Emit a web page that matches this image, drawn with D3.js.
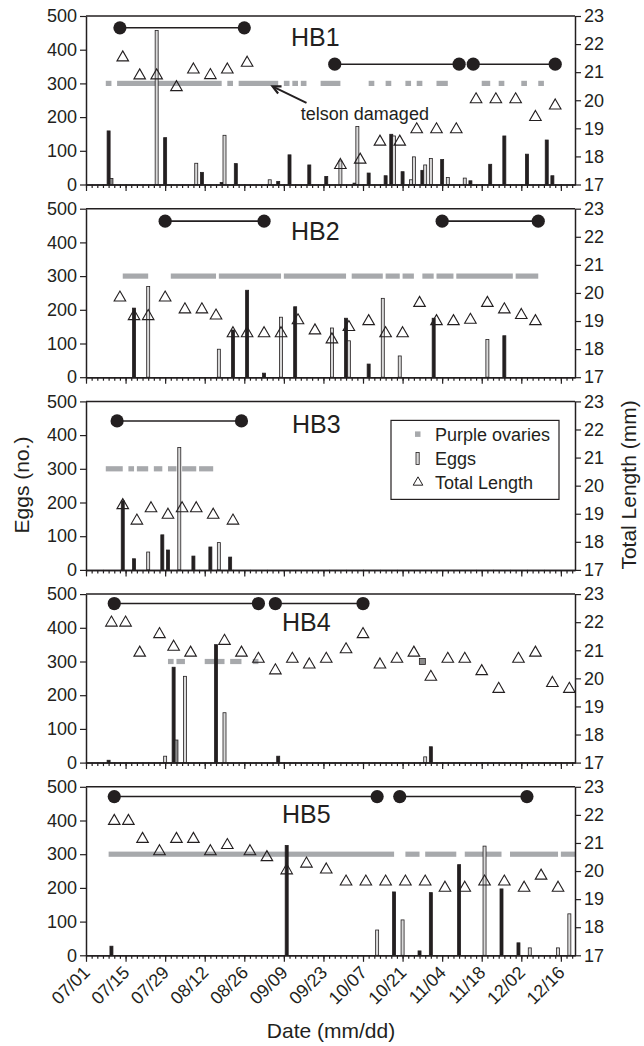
<!DOCTYPE html>
<html>
<head>
<meta charset="utf-8">
<script src="https://cdn.jsdelivr.net/npm/d3@7"></script>
<style>
  body { margin: 0; background: #fff; }
  text { font-family: "Liberation Sans", Arial, Helvetica, sans-serif; fill: #231f20; }
</style>
</head>
<body>
<svg id="chart" width="644" height="1046"></svg>
<script>
// ---- data ----
const panelNames = ['HB1', 'HB2', 'HB3', 'HB4', 'HB5']
const dateTicks = ['07/01', '07/15', '07/29', '08/12', '08/26', '09/09', '09/23', '10/07', '10/21', '11/04', '11/18', '12/02', '12/16']
const eggTicks = [0, 100, 200, 300, 400, 500]
const lengthTicks = [17, 18, 19, 20, 21, 22, 23]
const ovaryLevel = 300

// total length (mm): [date, mm]
const hb1Length = [['07/14', 21.52], ['07/20', 20.88], ['07/26', 20.88], ['08/02', 20.46], ['08/08', 21.09], ['08/14', 20.89], ['08/20', 21.09], ['08/27', 21.33], ['09/29', 17.69], ['10/06', 17.88], ['10/13', 18.52], ['10/20', 18.52], ['10/26', 18.96], ['11/02', 18.96], ['11/09', 18.96], ['11/16', 20.03], ['11/23', 20.03], ['11/30', 20.03], ['12/07', 19.4], ['12/14', 19.81]]
const hb2Length = [['07/13', 19.83], ['07/18', 19.17], ['07/23', 19.17], ['07/29', 19.83], ['08/05', 19.41], ['08/11', 19.41], ['08/16', 19.19], ['08/22', 18.56], ['08/27', 18.56], ['09/02', 18.56], ['09/08', 18.56], ['09/14', 19.02], ['09/20', 18.66], ['09/26', 18.34], ['10/02', 18.78], ['10/09', 18.99], ['10/15', 18.56], ['10/21', 18.56], ['10/27', 19.64], ['11/02', 18.99], ['11/08', 18.99], ['11/14', 19.04], ['11/20', 19.64], ['11/26', 19.41], ['12/02', 19.21], ['12/07', 18.99]]
const hb3Length = [['07/14', 19.3], ['07/19', 18.75], ['07/24', 19.19], ['07/30', 18.96], ['08/04', 19.19], ['08/09', 19.19], ['08/15', 18.96], ['08/22', 18.75]]
const hb4Length = [['07/10', 21.98], ['07/15', 21.98], ['07/20', 20.91], ['07/27', 21.57], ['08/01', 21.12], ['08/07', 20.91], ['08/19', 21.33], ['08/25', 20.91], ['08/31', 20.69], ['09/06', 20.28], ['09/12', 20.69], ['09/18', 20.49], ['09/24', 20.69], ['10/01', 21.03], ['10/07', 21.57], ['10/13', 20.49], ['10/19', 20.69], ['10/25', 20.91], ['10/31', 20.05], ['11/06', 20.69], ['11/12', 20.69], ['11/18', 20.25], ['11/24', 19.62], ['12/01', 20.69], ['12/07', 20.91], ['12/13', 19.83], ['12/19', 19.62]]
const hb5Length = [['07/11', 21.78], ['07/16', 21.78], ['07/21', 21.14], ['07/27', 20.7], ['08/02', 21.14], ['08/08', 21.14], ['08/14', 20.7], ['08/20', 20.92], ['08/28', 20.7], ['09/03', 20.49], ['09/10', 20.02], ['09/17', 20.26], ['09/24', 20.05], ['10/01', 19.62], ['10/08', 19.62], ['10/15', 19.62], ['10/22', 19.62], ['10/29', 19.62], ['11/05', 19.4], ['11/12', 19.4], ['11/19', 19.62], ['11/26', 19.62], ['12/03', 19.4], ['12/09', 19.83], ['12/15', 19.4]]

// eggs: [date, count, kind] kind 1 = dark bar, 2 = light bar, 3 = grey bar
const hb1Eggs = [['07/09', 159, 1], ['07/10', 18, 3], ['07/26', 457, 2], ['07/29', 139, 1], ['08/09', 63, 2], ['08/11', 36, 1], ['08/18', 6, 1], ['08/19', 146, 2], ['08/23', 62, 1], ['09/04', 14, 2], ['09/07', 9, 1], ['09/11', 88, 1], ['09/18', 58, 1], ['09/24', 24, 1], ['09/29', 70, 2], ['10/04', 4, 1], ['10/05', 172, 2], ['10/09', 34, 1], ['10/15', 26, 1], ['10/17', 149, 1], ['10/18', 144, 2], ['10/21', 38, 1], ['10/24', 14, 2], ['10/25', 82, 2], ['10/28', 42, 1], ['10/29', 58, 2], ['10/31', 77, 2], ['11/04', 74, 1], ['11/06', 21, 2], ['11/12', 19, 2], ['11/14', 11, 1], ['11/21', 60, 1], ['11/26', 144, 1], ['12/04', 90, 1], ['12/11', 132, 1], ['12/13', 26, 1]]
const hb2Eggs = [['07/18', 205, 1], ['07/23', 269, 2], ['08/17', 83, 2], ['08/22', 140, 1], ['08/27', 258, 1], ['09/02', 12, 1], ['09/08', 178, 2], ['09/13', 209, 1], ['09/26', 146, 2], ['10/01', 175, 1], ['10/02', 108, 2], ['10/09', 39, 1], ['10/14', 234, 2], ['10/20', 63, 2], ['11/01', 175, 1], ['11/20', 112, 2], ['11/26', 123, 1]]
const hb3Eggs = [['07/14', 205, 1], ['07/18', 33, 1], ['07/23', 53, 2], ['07/28', 104, 1], ['07/30', 59, 1], ['08/03', 363, 2], ['08/08', 41, 1], ['08/14', 68, 1], ['08/17', 81, 2], ['08/21', 38, 1]]
const hb4Eggs = [['07/09', 7, 1], ['07/29', 19, 2], ['08/01', 283, 1], ['08/02', 67, 3], ['08/05', 256, 2], ['08/16', 350, 1], ['08/19', 148, 2], ['09/07', 19, 1], ['10/29', 17, 2], ['10/31', 47, 1]]
const hb5Eggs = [['07/10', 27, 1], ['09/10', 326, 1], ['10/12', 75, 2], ['10/18', 188, 1], ['10/21', 105, 2], ['10/27', 13, 1], ['10/31', 186, 1], ['11/10', 269, 1], ['11/19', 324, 2], ['11/25', 197, 1], ['12/01', 37, 1], ['12/05', 22, 2], ['12/15', 22, 2], ['12/19', 123, 2]]

// purple ovaries: [from, to]
const hb1Ovary = [['07/08', '07/10'], ['07/12', '08/18'], ['08/20', '08/22'], ['08/24', '09/07'], ['09/09', '09/11'], ['09/12', '09/14'], ['09/15', '09/17'], ['09/22', '09/29'], ['10/09', '10/11'], ['10/15', '10/17'], ['10/22', '10/24'], ['10/26', '10/28'], ['11/02', '11/06'], ['11/18', '11/21'], ['11/24', '11/26'], ['12/02', '12/04'], ['12/08', '12/10']]
const hb2Ovary = [['07/14', '07/23'], ['07/31', '08/16'], ['08/17', '09/08'], ['09/09', '10/01'], ['10/03', '10/14'], ['10/15', '10/20'], ['10/21', '10/25'], ['10/28', '11/01'], ['11/02', '11/08'], ['11/09', '11/29'], ['11/30', '12/08']]
const hb3Ovary = [['07/08', '07/14'], ['07/16', '07/18'], ['07/19', '07/23'], ['07/25', '07/28'], ['07/30', '08/02'], ['08/04', '08/09'], ['08/10', '08/15']]
const hb4Ovary = [['07/30', '08/01'], ['08/02', '08/05'], ['08/12', '08/19'], ['08/21', '08/25'], ['08/29', '08/31']]
const hb5Ovary = [['07/09', '10/18'], ['10/22', '10/27'], ['10/29', '11/09'], ['11/12', '11/25'], ['11/28', '12/15'], ['12/16', '12/21']]
const hb4OvarySingle = ['10/28']

// intermolt bars: [from, to, level on egg axis]
const hb1Molt = [['07/13', '08/26', 465], ['09/27', '11/10', 357], ['11/15', '12/14', 357]]
const hb2Molt = [['07/29', '09/02', 463], ['11/04', '12/08', 463]]
const hb3Molt = [['07/12', '08/25', 442]]
const hb4Molt = [['07/11', '08/31', 472], ['09/06', '10/07', 472]]
const hb5Molt = [['07/11', '10/12', 471], ['10/20', '12/04', 471]]

const telsonNote = { text: 'telson damaged', at: ['09/15', 190], tail: ['09/17', 242], head: ['09/05', 291] }
const legendItems = ['Purple ovaries', 'Eggs', 'Total Length']

// ---- layout ----
const left = 86
const right = 575
const panelTop = 16
const panelStep = 192.7
const panelH = 168.5
const labelPos = [[291, 30], [291, 31], [292, 32], [282, 37], [282, 36]]
const ink = '#231f20'
const grey = '#a7a9ac'
const eggFill = { 1: '#231f20', 2: '#d9d9d9', 3: '#8a8a8a' }

const parse = d3.utcParse('%m/%d')
const x = d3.scaleUtc().domain([parse('07/01'), parse('12/21')]).range([left, right])
const svg = d3.select('#chart')

const panels = [
    { length: hb1Length, eggs: hb1Eggs, ovary: hb1Ovary, molt: hb1Molt },
    { length: hb2Length, eggs: hb2Eggs, ovary: hb2Ovary, molt: hb2Molt },
    { length: hb3Length, eggs: hb3Eggs, ovary: hb3Ovary, molt: hb3Molt },
    { length: hb4Length, eggs: hb4Eggs, ovary: hb4Ovary, molt: hb4Molt },
    { length: hb5Length, eggs: hb5Eggs, ovary: hb5Ovary, molt: hb5Molt }
]

// minor ticks every second day
let minorTicks = d3.utcDay.range(parse('07/01'), parse('12/22')).filter((d, i) => i % 2 === 0)
let majorTicks = dateTicks.map(parse)

function styleAxis(g) {
    g.attr('font-size', 18).attr('font-family', null)
    g.select('.domain').attr('stroke', ink).attr('stroke-width', 1.5)
    g.selectAll('.tick line').attr('stroke', ink).attr('stroke-width', 1.2)
    g.selectAll('.tick text').attr('fill', ink)
}

panels.forEach((p, i) => {
    let top = panelTop + i * panelStep
    let bottom = top + panelH
    let yEgg = d3.scaleLinear().domain([0, 500]).range([bottom, top])
    let yLen = d3.scaleLinear().domain([17, 23]).range([bottom, top])
    let g = svg.append('g')

    // purple ovaries
    g.selectAll('.ovary').data(p.ovary).enter().append('rect')
        .attr('x', d => x(parse(d[0])))
        .attr('width', d => x(parse(d[1])) - x(parse(d[0])))
        .attr('y', yEgg(ovaryLevel) - 2.6)
        .attr('height', 5.2)
        .attr('fill', grey)

    // eggs
    g.selectAll('.egg').data(p.eggs).enter().append('rect')
        .attr('x', d => x(parse(d[0])) - 1.5)
        .attr('width', 3)
        .attr('y', d => yEgg(d[1]))
        .attr('height', d => yEgg(0) - yEgg(d[1]))
        .attr('fill', d => eggFill[d[2]])
        .attr('stroke', ink)
        .attr('stroke-width', 0.8)

    // intermolt bars
    p.molt.forEach(m => {
        let x0 = x(parse(m[0]))
        let x1 = x(parse(m[1]))
        let yy = yEgg(m[2])
        g.append('line').attr('x1', x0).attr('x2', x1).attr('y1', yy).attr('y2', yy)
            .attr('stroke', ink).attr('stroke-width', 1.6)
        g.selectAll(null).data([x0, x1]).enter().append('circle')
            .attr('cx', d => d).attr('cy', yy).attr('r', 6.6).attr('fill', ink)
    })

    // total length
    g.selectAll('.tl').data(p.length).enter().append('path')
        .attr('d', d3.symbol(d3.symbolTriangle, 58))
        .attr('transform', d => 'translate(' + x(parse(d[0])) + ',' + yLen(d[1]) + ')')
        .attr('fill', 'none')
        .attr('stroke', ink)
        .attr('stroke-width', 1.1)

    // frame top
    g.append('line').attr('x1', left).attr('x2', right).attr('y1', top).attr('y2', top)
        .attr('stroke', ink).attr('stroke-width', 1.5)

    // axes
    g.append('g').attr('transform', 'translate(' + left + ',0)')
        .call(d3.axisLeft(yEgg).tickValues(eggTicks).tickSize(6).tickSizeOuter(0).tickPadding(3))
        .call(styleAxis)
    g.append('g').attr('transform', 'translate(' + right + ',0)')
        .call(d3.axisRight(yLen).tickValues(lengthTicks).tickSize(6).tickSizeOuter(0).tickPadding(3)
            .tickFormat(d3.format('d')))
        .call(styleAxis)
    g.append('g').attr('transform', 'translate(0,' + bottom + ')')
        .call(d3.axisBottom(x).tickValues(minorTicks).tickSize(3.5).tickSizeOuter(0).tickFormat(''))
        .call(styleAxis)
    let xAxis = g.append('g').attr('transform', 'translate(0,' + bottom + ')')
        .call(d3.axisBottom(x).tickValues(majorTicks).tickSize(6.5).tickSizeOuter(0)
            .tickFormat(i === panels.length - 1 ? d3.utcFormat('%m/%d') : ''))
        .call(styleAxis)
    if (i === panels.length - 1) {
        xAxis.selectAll('.tick text')
            .attr('x', 0).attr('y', 0).attr('dy', '0.35em')
            .attr('text-anchor', 'end')
            .attr('transform', 'translate(0,14) rotate(-45)')
    }

    // panel name
    g.append('text').attr('x', labelPos[i][0]).attr('y', top + labelPos[i][1])
        .attr('font-size', 25).text(panelNames[i])

    if (i === 0) {
        // telson annotation
        let hx = x(parse(telsonNote.head[0])), hy = yEgg(telsonNote.head[1])
        let tx = x(parse(telsonNote.tail[0])), ty = yEgg(telsonNote.tail[1])
        let ang = Math.atan2(ty - hy, tx - hx)
        let barb = 9
        g.append('line').attr('x1', tx).attr('y1', ty).attr('x2', hx + Math.cos(ang)).attr('y2', hy + Math.sin(ang))
            .attr('stroke', ink).attr('stroke-width', 2)
        g.append('path')
            .attr('d', 'M' + (hx + barb * Math.cos(ang - 0.45)) + ',' + (hy + barb * Math.sin(ang - 0.45)) +
                'L' + hx + ',' + hy +
                'L' + (hx + barb * Math.cos(ang + 0.45)) + ',' + (hy + barb * Math.sin(ang + 0.45)))
            .attr('fill', 'none').attr('stroke', ink).attr('stroke-width', 2.2)
        g.append('text').attr('x', x(parse(telsonNote.at[0]))).attr('y', yEgg(telsonNote.at[1]))
            .attr('font-size', 18).text(telsonNote.text)
    }

    if (i === 3) {
        g.selectAll('.single').data(hb4OvarySingle).enter().append('rect')
            .attr('x', d => x(parse(d)) - 3).attr('y', yEgg(ovaryLevel) - 3)
            .attr('width', 6).attr('height', 6)
            .attr('fill', '#8a8a8a').attr('stroke', ink).attr('stroke-width', 0.8)
    }

    if (i === 2) {
        // legend
        let lg = g.append('g').attr('transform', 'translate(391,' + (top + 19) + ')')
        lg.append('rect').attr('width', 168).attr('height', 79)
            .attr('fill', '#fff').attr('stroke', ink).attr('stroke-width', 1.2)
        lg.append('rect').attr('x', 24).attr('y', 11).attr('width', 5.5).attr('height', 5.5).attr('fill', grey)
        lg.append('rect').attr('x', 25).attr('y', 32).attr('width', 3.2).attr('height', 12)
            .attr('fill', '#d9d9d9').attr('stroke', ink).attr('stroke-width', 0.8)
        lg.append('path').attr('d', d3.symbol(d3.symbolTriangle, 40))
            .attr('transform', 'translate(27,62)').attr('fill', 'none').attr('stroke', ink).attr('stroke-width', 1)
        lg.selectAll('.lt').data(legendItems).enter().append('text')
            .attr('x', 44).attr('y', (d, k) => 14 + k * 24)
            .attr('dy', '0.35em').attr('font-size', 18).text(d => d)
    }
})

// axis titles
svg.append('text').attr('transform', 'translate(22,485) rotate(-90)')
    .attr('text-anchor', 'middle').attr('dy', '0.35em').attr('font-size', 21).text('Eggs (no.)')
svg.append('text').attr('transform', 'translate(629,485) rotate(-90)')
    .attr('text-anchor', 'middle').attr('dy', '0.35em').attr('font-size', 21).text('Total Length (mm)')
svg.append('text').attr('x', 331).attr('y', 1038)
    .attr('text-anchor', 'middle').attr('font-size', 21).text('Date (mm/dd)')
</script>
</body>
</html>
